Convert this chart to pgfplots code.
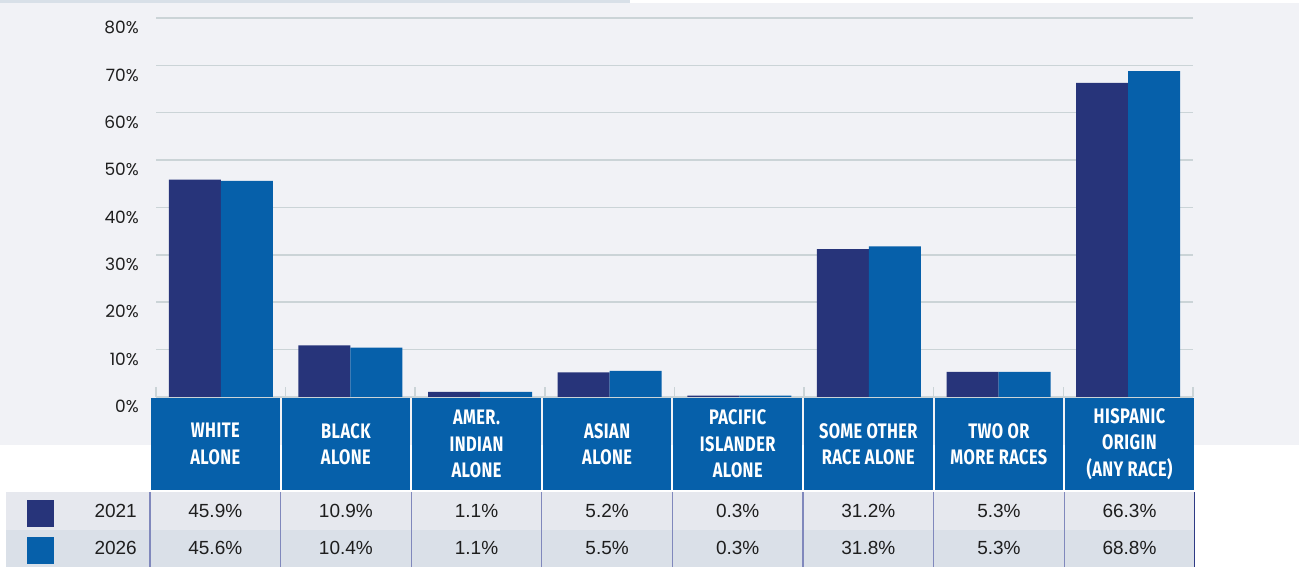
\documentclass[border=0pt]{standalone}
\usepackage{pgfplots}
\pgfplotsset{compat=1.18}
\usepackage{fontspec}
\setmainfont{Liberation Sans}
\newfontfamily\tickfont{Poppins}
\newfontfamily\headfont[FakeStretch=0.78,LetterSpace=2]{Fira Sans}
\definecolor{panel}{HTML}{F1F2F6}
\definecolor{strip}{HTML}{D8E0E8}
\definecolor{gridc}{HTML}{CBD4D7}
\definecolor{navy}{HTML}{27347A}
\definecolor{barblue}{HTML}{0660AA}
\definecolor{rowa}{HTML}{E6E8EE}
\definecolor{rowb}{HTML}{DAE0E8}
\definecolor{sepc}{HTML}{8088BC}
\definecolor{edgec}{HTML}{2E3A85}
\definecolor{txt}{HTML}{1E1E1E}
\begin{document}
\begin{tikzpicture}[x=1pt,y=1pt]
\useasboundingbox (0,0) rectangle (1299,567);
\fill[white] (0,0) rectangle (1299,567);
\fill[panel] (0,122) rectangle (1299,564);
\fill[strip] (0,564) rectangle (630,567);
% category header boxes
\foreach \i/\lab in {0/{WHITE\\ALONE},1/{BLACK\\ALONE},2/{AMER.\\INDIAN\\ALONE},3/{ASIAN\\ALONE},4/{PACIFIC\\ISLANDER\\ALONE},5/{SOME OTHER\\RACE ALONE},6/{TWO OR\\MORE RACES},7/{HISPANIC\\ORIGIN\\(ANY RACE)}} {
  \pgfmathsetmacro\xl{150+130.6*\i+1}
  \pgfmathsetmacro\xr{150+130.6*(\i+1)-1}
  \fill[barblue] (\xl,77) rectangle (\xr,169);
  \node[text=white, align=center, inner sep=0pt, font=\headfont\bfseries\fontsize{21}{26.5}\selectfont] at ({(\xl+\xr)/2},123) {\lab};
}
% table rows
\fill[rowa] (6,37) rectangle (1195,75);
\fill[rowb] (6,0) rectangle (1195,37);
\foreach \i in {0,...,7} {
  \draw[sepc, line width=1.3pt] ({150+130.6*\i},0) -- ({150+130.6*\i},75);
}
\draw[edgec, line width=1.3pt] (1194.5,0) -- (1194.5,75);
\fill[navy] (27,40) rectangle (54,67);
\fill[barblue] (27,3) rectangle (54,30);
\node[anchor=east, inner sep=0pt, text=txt, font=\fontsize{19}{19}\selectfont] at (137,56) {2021};
\node[anchor=east, inner sep=0pt, text=txt, font=\fontsize{19}{19}\selectfont] at (137,19) {2026};
\foreach \i/\va/\vb in {0/45.9/45.6,1/10.9/10.4,2/1.1/1.1,3/5.2/5.5,4/0.3/0.3,5/31.2/31.8,6/5.3/5.3,7/66.3/68.8} {
  \node[inner sep=0pt, text=txt, font=\fontsize{19}{19}\selectfont] at ({150+130.6*\i+65.3},56) {\va\%};
  \node[inner sep=0pt, text=txt, font=\fontsize{19}{19}\selectfont] at ({150+130.6*\i+65.3},19) {\vb\%};
}
\begin{axis}[
  at={(156pt,170pt)}, anchor=south west,
  scale only axis, width=1037pt, height=379pt,
  xmin=-0.5, xmax=7.5, ymin=0, ymax=80,
  ybar=0pt, bar width=52pt,
  axis line style={draw=none},
  xtick={-0.5,0.5,...,7.5}, xticklabels={},
  xtick pos=left, tick align=inside, major tick length=10pt,
  xtick style={draw=gridc, line width=1.5pt},
  ytick={0,10,...,80},
  yticklabels={0\%,10\%,20\%,30\%,40\%,50\%,60\%,70\%,80\%},
  ytick style={draw=none},
  yticklabel style={font=\tickfont\fontsize{17}{17}\selectfont, anchor=north east, inner sep=0pt, xshift=-17pt, yshift=-3pt, text=txt},
  ymajorgrids, grid style={gridc, line width=1.5pt},
  clip=false,
]
\addplot[fill=navy, draw=none] coordinates {(0,45.9) (1,10.9) (2,1.1) (3,5.2) (4,0.3) (5,31.2) (6,5.3) (7,66.3)};
\addplot[fill=barblue, draw=none] coordinates {(0,45.6) (1,10.4) (2,1.1) (3,5.5) (4,0.3) (5,31.8) (6,5.3) (7,68.8)};
\end{axis}
\end{tikzpicture}
\end{document}
